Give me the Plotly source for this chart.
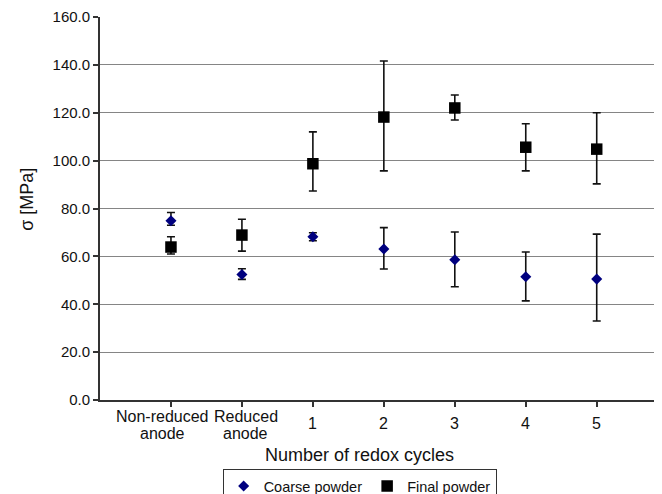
import plotly.graph_objects as go

categories = ["Non-reduced<br>anode", "Reduced<br>anode", "1", "2", "3", "4", "5"]
cat_pos = [1, 2, 3, 4, 5, 6, 7]
label_shift = [-8.5, 4, 0, 0, 0, 0, 0]  # px offsets Excel applied to avoid overlap

coarse_mean = [74.9, 52.4, 68.2, 63.1, 58.6, 51.5, 50.5]
coarse_upper = [78.3, 54.8, 69.9, 72.0, 70.2, 61.8, 69.3]
coarse_lower = [73.0, 50.4, 66.5, 54.7, 47.3, 41.4, 33.0]

final_mean = [63.9, 68.9, 98.7, 118.2, 122.0, 105.6, 104.8]
final_upper = [68.2, 75.5, 112.0, 141.6, 127.4, 115.4, 120.0]
final_lower = [61.0, 62.2, 87.3, 95.7, 117.0, 95.7, 90.3]

y_ticks = [0, 20, 40, 60, 80, 100, 120, 140, 160]

FONT = "Liberation Sans, Arial, sans-serif"
PLOT_H = 383.0  # plot-area height in px


def px_to_paper_y(py):
    # py in page pixels (page has an 8px body margin)
    return (400.0 - py) / PLOT_H


fig = go.Figure()

fig.add_trace(go.Scatter(
    x=cat_pos, y=coarse_mean, mode="markers", name="Coarse powder",
    marker=dict(symbol="diamond", size=8.5, color="#00007f"),
    error_y=dict(type="data", symmetric=False,
                 array=[u - m for u, m in zip(coarse_upper, coarse_mean)],
                 arrayminus=[m - l for m, l in zip(coarse_mean, coarse_lower)],
                 color="#111111", thickness=1.6, width=4),
))
fig.add_trace(go.Scatter(
    x=cat_pos, y=final_mean, mode="markers", name="Final powder",
    marker=dict(symbol="square", size=11.5, color="black"),
    error_y=dict(type="data", symmetric=False,
                 array=[u - m for u, m in zip(final_upper, final_mean)],
                 arrayminus=[m - l for m, l in zip(final_mean, final_lower)],
                 color="#111111", thickness=1.6, width=4),
))

fig.update_layout(
    width=654, height=486,
    margin=dict(l=92, r=0, t=9, b=94, autoexpand=False),
    plot_bgcolor="white", paper_bgcolor="white",
    font=dict(family=FONT, color="#111111"),
    xaxis=dict(range=[0, 7.92], tickvals=cat_pos, ticktext=[""] * len(cat_pos),
               ticks="outside", ticklen=5, tickcolor="#333333", tickwidth=1.5,
               showline=True, linecolor="#333333", linewidth=1.8,
               showgrid=False, zeroline=False, automargin=False),
    yaxis=dict(range=[0, 160], tickvals=y_ticks, tickformat=".1f",
               ticks="outside", ticklen=5, tickcolor="#333333", tickwidth=1.5,
               showline=True, linecolor="#333333", linewidth=1.8,
               showgrid=True, gridcolor="#858585", gridwidth=1.4,
               zeroline=False, tickfont=dict(size=15), automargin=False),
    showlegend=True,
    legend=dict(orientation="h", x=0.462, xanchor="center",
                y=px_to_paper_y(469), yanchor="top",
                bordercolor="#333333", borderwidth=1, font=dict(size=14.5),
                itemwidth=30, tracegroupgap=0),
)

LINE_SP = 17.0
CENTER_MULTI = 425.0
CENTER_SINGLE = 423.0
for pos, lab, sh in zip(cat_pos, categories, label_shift):
    lines = lab.split("<br>")
    n = len(lines)
    center = CENTER_MULTI if n > 1 else CENTER_SINGLE
    for i, line in enumerate(lines):
        py = center + (i - (n - 1) / 2.0) * LINE_SP
        fig.add_annotation(x=pos, xref="x", y=px_to_paper_y(py), yref="paper",
                           text=line, showarrow=False, yanchor="middle",
                           xanchor="center", xshift=sh, font=dict(size=16))

fig.add_annotation(x=0.4626, xref="paper", y=px_to_paper_y(455), yref="paper",
                   text="Number of redox cycles", showarrow=False,
                   yanchor="middle", xanchor="center", font=dict(size=18))
fig.add_annotation(x=-0.13, xref="paper", y=0.525, yref="paper",
                   text="σ [MPa]", textangle=-90, showarrow=False,
                   yanchor="middle", xanchor="center", font=dict(size=18))

fig.write_html("out.html")
